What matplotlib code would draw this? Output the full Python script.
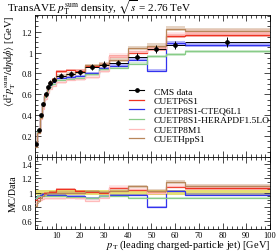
import numpy as np
import matplotlib
matplotlib.use('Agg')
import matplotlib.pyplot as plt
from matplotlib.ticker import MultipleLocator, AutoMinorLocator, FuncFormatter
from matplotlib.lines import Line2D

# ---------------- data ----------------
bin_edges = [1, 2, 3, 4, 5, 6, 7, 8, 10, 14, 18, 22, 28, 32, 40, 48, 56, 64, 100]
data_vals = [0.12, 0.26, 0.40, 0.51, 0.60, 0.67, 0.71, 0.74, 0.78, 0.795, 0.81,
             0.86, 0.885, 0.90, 0.96, 1.035, 1.07, 1.10]
data_errs = [0.004, 0.009, 0.014, 0.018, 0.021, 0.024, 0.025, 0.026, 0.027, 0.028,
             0.028, 0.030, 0.031, 0.032, 0.034, 0.036, 0.040, 0.048]

# MC / data ratios per bin
ratio_p6s1 = [0.90, 0.93, 0.96, 0.98, 0.99, 1.00, 1.01, 1.01, 1.05, 1.05, 1.02,
              1.01, 1.00, 1.07, 1.04, 1.00, 1.08, 1.06]
ratio_p8s1_cteq = [0.92, 0.95, 0.97, 0.98, 0.98, 0.97, 0.97, 0.97, 0.975, 0.96, 0.96,
                   0.93, 0.96, 0.97, 0.97, 0.80, 1.02, 0.975]
ratio_p8s1_hera = [0.93, 0.95, 0.96, 0.96, 0.96, 0.95, 0.95, 0.95, 0.95, 0.94, 0.94,
                   0.92, 0.95, 0.95, 0.93, 0.93, 0.92, 0.92]
ratio_p8m1 = [0.85, 0.88, 0.90, 0.91, 0.92, 0.92, 0.92, 0.92, 0.92, 0.93, 0.92,
              0.89, 0.93, 1.08, 1.05, 1.00, 1.10, 1.09]
ratio_hpps1 = [0.82, 0.88, 0.93, 0.96, 0.98, 0.99, 1.00, 1.00, 1.00, 1.00, 1.00,
               1.02, 1.01, 1.03, 1.09, 1.03, 1.15, 1.10]

mc_labels = ['CUETP6S1', 'CUETP8S1-CTEQ6L1', 'CUETP8S1-HERAPDF1.5LO', 'CUETP8M1', 'CUETHppS1']
mc_ratios = [ratio_p6s1, ratio_p8s1_cteq, ratio_p8s1_hera, ratio_p8m1, ratio_hpps1]
mc_rel_unc = [0.015, 0.015, 0.015, 0.02, 0.02]
mc_colors = ['#ee3322', '#3333ee', '#88cc88', '#ffbbbb', '#b8865a']

# ---------------- style ----------------
plt.rcParams['font.family'] = ['Liberation Serif', 'DejaVu Serif']
plt.rcParams['mathtext.fontset'] = 'stix'
plt.rcParams['axes.linewidth'] = 0.6

W, H = 280, 253
fig = plt.figure(figsize=(W / 100, H / 100), dpi=100)

def frac(x0, y0, x1, y1):
    return [x0 / W, 1 - y1 / H, (x1 - x0) / W, (y1 - y0) / H]

ax = fig.add_axes(frac(35, 16, 270, 158))
ax2 = fig.add_axes(frac(35, 158, 270, 229.5), sharex=ax)

edges = np.array(bin_edges, dtype=float)
centers = 0.5 * (edges[1:] + edges[:-1])
halfw = 0.5 * (edges[1:] - edges[:-1])
dv = np.array(data_vals)
de = np.array(data_errs)

# data band in ratio
rel = de / dv
ax2.stairs(1 + rel, edges, baseline=1 - rel, fill=True, color='#e0d850', alpha=0.8, lw=0, zorder=1)

for lab, r, u, c in zip(mc_labels, mc_ratios, mc_rel_unc, mc_colors):
    r = np.array(r)
    mc = r * dv
    ax.stairs(mc * (1 + u), edges, baseline=mc * (1 - u), fill=True, color=c, alpha=0.35, lw=0, zorder=2)
    ax.stairs(mc, edges, color=c, lw=0.9, zorder=3, baseline=None)
    ax2.stairs(r * (1 + u), edges, baseline=r * (1 - u), fill=True, color=c, alpha=0.35, lw=0, zorder=2)
    ax2.stairs(r, edges, color=c, lw=0.9, zorder=3, baseline=None)

ax.errorbar(centers, dv, xerr=halfw, yerr=de, fmt='o', ms=2.4, color='black',
            ecolor='black', elinewidth=0.7, capsize=0, zorder=5)

leg_labels = ['CMS data'] + mc_labels
leg_handles = [Line2D([], [], color='black', lw=0.8, marker='o', ms=2.4)] + \
              [Line2D([], [], color=c, lw=0.9) for c in mc_colors]
ax.legend(leg_handles, leg_labels, loc='upper left', bbox_to_anchor=((129 - 35) / 235, (158 - 88) / 142),
          frameon=False, fontsize=6.8, handlelength=1.6, handletextpad=1.0,
          borderpad=0, borderaxespad=0, labelspacing=0.1)

ax.set_xlim(1, 100)
ax.set_ylim(0, 1.36)
ax2.set_ylim(0.5, 1.5)

fmt = FuncFormatter(lambda v, p: '%g' % round(v, 3))
for a in (ax, ax2):
    a.xaxis.set_major_locator(MultipleLocator(10))
    a.xaxis.set_minor_locator(MultipleLocator(2))
    a.tick_params(which='both', direction='in', top=True, right=True, width=0.5, labelsize=6, pad=2)
    a.tick_params(which='major', length=4)
    a.tick_params(which='minor', length=2)
    a.yaxis.set_major_formatter(fmt)
ax.yaxis.set_major_locator(MultipleLocator(0.2))
ax.yaxis.set_minor_locator(AutoMinorLocator(4))
ax2.yaxis.set_minor_locator(AutoMinorLocator(4))
ax.tick_params(labelbottom=False)
ax2.xaxis.set_major_formatter(fmt)
ax2.set_yticks([0.6, 0.8, 1.0, 1.2, 1.4])
ax2.tick_params(axis='x', pad=1.5)

ax.set_ylabel(r'$\langle\mathrm{d}^2 p_\mathrm{T}^\mathrm{sum} / \mathrm{d}\eta\mathrm{d}\phi\rangle$ [GeV]',
              fontsize=7.5, loc='top')
ax.yaxis.set_label_coords(-0.072, 1.0)
ax2.set_ylabel('MC/Data', fontsize=7)
ax2.yaxis.set_label_coords(-0.072, 0.5)
ax2.set_xlabel(r'$p_\mathrm{T}$ (leading charged-particle jet) [GeV]', fontsize=7.5, loc='right', labelpad=-0.5)

fig.text(7 / W, 1 - 8 / H, r'TransAVE $p_\mathrm{T}^\mathrm{sum}$ density, $\sqrt{s}$ = 2.76 TeV',
         fontsize=8, ha='left', va='center')

fig.savefig('out.png', dpi=100)
